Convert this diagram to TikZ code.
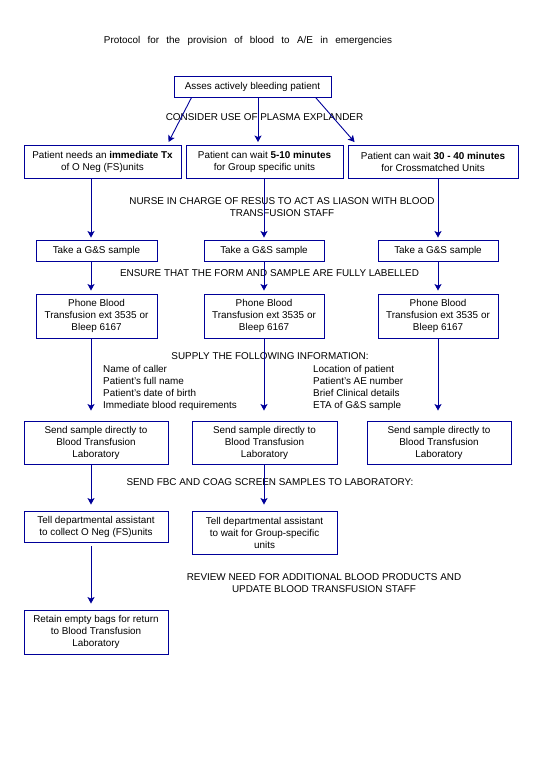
\documentclass[tikz,border=0pt]{standalone}
\usepackage{fontspec}
\setmainfont{Liberation Sans}
\usetikzlibrary{arrows.meta}
\definecolor{navy}{RGB}{0,0,153}
\begin{document}
\begin{tikzpicture}[x=1pt,y=-1pt,
  every node/.style={font=\fontsize{9.9}{12}\selectfont, inner sep=0pt},
  box/.style={draw=navy, line width=0.9pt, align=center},
  lbl/.style={align=center},
  arr/.style={draw=navy, line width=0.9pt, -{Stealth[width=7pt,length=6.5pt,inset=1.5pt]}}]
\path[use as bounding box, fill=white] (0,0) rectangle (540,780);

\node[lbl] (t) at (248,41) {\spaceskip=7.3pt Protocol for the provision of blood to A/E in emergencies};

\node[box, minimum width=157pt, minimum height=21pt] (a) at (252.5,86.5) {Asses actively bleeding patient};
\node[lbl] (l1) at (264.5,117) {CONSIDER USE OF PLASMA EXPLANDER};

\node[box, minimum width=157pt, minimum height=33pt] (b1) at (102.5,162) {Patient needs an \textbf{immediate Tx}\\of O Neg (FS)units};
\node[box, minimum width=157pt, minimum height=33pt] (b2) at (264.5,162) {Patient can wait \textbf{5-10 minutes}\\for Group specific units};
\node[box, minimum width=170pt, minimum height=33pt] (b3) at (433,162) {Patient can wait \textbf{30 - 40 minutes}\\for Crossmatched Units};

\node[lbl] (l2) at (282,207.5) {NURSE IN CHARGE OF RESUS TO ACT AS LIASON WITH BLOOD\\TRANSFUSION STAFF};

\node[box, minimum width=121pt, minimum height=21pt] (c1) at (96.5,250.5) {Take a G\&S sample};
\node[box, minimum width=120pt, minimum height=21pt] (c2) at (264,250.5) {Take a G\&S sample};
\node[box, minimum width=120pt, minimum height=21pt] (c3) at (438,250.5) {Take a G\&S sample};

\node[lbl] (l3) at (269.5,273) {ENSURE THAT THE FORM AND SAMPLE ARE FULLY LABELLED};

\node[box, minimum width=121pt, minimum height=44pt] (d1) at (96.5,316) {Phone Blood\\Transfusion ext 3535 or\\Bleep 6167};
\node[box, minimum width=120pt, minimum height=44pt] (d2) at (264,316) {Phone Blood\\Transfusion ext 3535 or\\Bleep 6167};
\node[box, minimum width=120pt, minimum height=44pt] (d3) at (438,316) {Phone Blood\\Transfusion ext 3535 or\\Bleep 6167};

\node[lbl] (l4) at (270,356) {SUPPLY THE FOLLOWING INFORMATION:};
\node[align=left, anchor=west] (i1) at (103,387.5) {Name of caller\\Patient’s full name\\Patient’s date of birth\\Immediate blood requirements};
\node[align=left, anchor=west] (i2) at (313,387.5) {Location of patient\\Patient’s AE number\\Brief Clinical details\\ETA of G\&S sample};

\node[box, minimum width=144pt, minimum height=43pt] (e1) at (96,442.5) {Send sample directly to\\Blood Transfusion\\Laboratory};
\node[box, minimum width=145pt, minimum height=43pt] (e2) at (264.5,442.5) {Send sample directly to\\Blood Transfusion\\Laboratory};
\node[box, minimum width=144pt, minimum height=43pt] (e3) at (439,442.5) {Send sample directly to\\Blood Transfusion\\Laboratory};

\node[lbl] (l5) at (270,482) {SEND FBC AND COAG SCREEN SAMPLES TO LABORATORY:};

\node[box, minimum width=144pt, minimum height=31pt] (f1) at (96,526.5) {Tell departmental assistant\\to collect O Neg (FS)units};
\node[box, minimum width=145pt, minimum height=43pt] (f2) at (264.5,532.5) {Tell departmental assistant\\to wait for Group-specific\\units};

\node[lbl] (l6) at (324,583.5) {REVIEW NEED FOR ADDITIONAL BLOOD PRODUCTS AND\\UPDATE BLOOD TRANSFUSION STAFF};

\node[box, minimum width=144pt, minimum height=44pt] (g1) at (96,632) {Retain empty bags for return\\to Blood Transfusion\\Laboratory};

% connectors from top box
\draw[arr] ([xshift=18pt]a.south west) -- ([xshift=145pt,yshift=3pt]b1.north west);
\draw[arr] ([xshift=5.5pt]a.south) -- ([xshift=5.5pt,yshift=3pt]a.south |- b2.north);
\draw[arr] ([xshift=142pt]a.south west) -- ([xshift=7pt,yshift=3pt]b3.north west);

% row 2 -> row 3
\draw[arr, shorten >=2pt] ([xshift=-11.5pt]b1.south) -- ([xshift=-11.5pt]b1.south |- c1.north);
\draw[arr, shorten >=2pt] ([xshift=-0.5pt]b2.south) -- ([xshift=-0.5pt]b2.south |- c2.north);
\draw[arr, shorten >=2pt] ([xshift=5pt]b3.south) -- ([xshift=5pt]b3.south |- c3.north);

% row 3 -> row 4
\draw[arr, shorten >=3pt] ([xshift=-5.5pt]c1.south) -- ([xshift=-5.5pt]c1.south |- d1.north);
\draw[arr, shorten >=3pt] (c2.south) -- (c2.south |- d2.north);
\draw[arr, shorten >=3pt] (c3.south) -- (c3.south |- d3.north);

% row 4 -> row 5
\draw[arr, shorten >=10pt] ([xshift=-5.5pt]d1.south) -- ([xshift=-5.5pt]d1.south |- e1.north);
\draw[arr, shorten >=10pt] (d2.south) -- (d2.south |- e2.north);
\draw[arr, shorten >=10pt] (d3.south) -- (d3.south |- e3.north);

% row 5 -> row 6
\draw[arr, shorten >=6pt] ([xshift=-5pt]e1.south) -- ([xshift=-5pt]e1.south |- f1.north);
\draw[arr, shorten >=6pt] ([xshift=-0.5pt]e2.south) -- ([xshift=-0.5pt]e2.south |- f2.north);

% row 6 -> row 7
\draw[arr, shorten <=4pt, shorten >=6pt] ([xshift=-5pt]f1.south) -- ([xshift=-5pt]f1.south |- g1.north);
\end{tikzpicture}
\end{document}
